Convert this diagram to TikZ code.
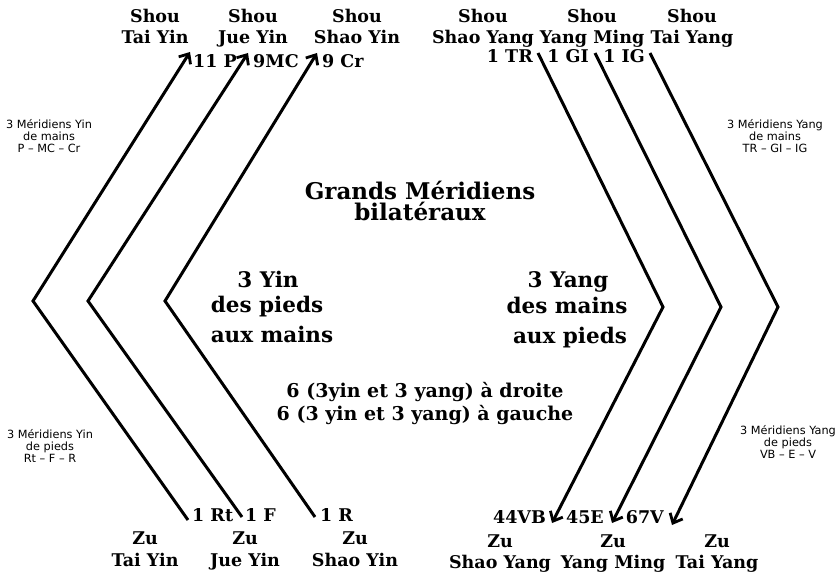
\documentclass[tikz,border=0pt]{standalone}
\usepackage{fontspec}
\setmainfont{DejaVu Serif}
\newfontfamily\sidefont{DejaVu Sans}
\usetikzlibrary{arrows.meta}
\begin{document}
\begin{tikzpicture}[x=1pt,y=-1pt,
  chev/.style={line width=3pt, line join=miter},
  arr/.style={chev, -{Straight Barb[length=8pt,width=14pt,line width=2.8pt]}},
  hdr/.style={font=\fontsize{17.5}{20}\selectfont\bfseries, anchor=base, inner sep=0pt},
  lblw/.style={font=\fontsize{17.5}{20}\selectfont\bfseries, anchor=base west, inner sep=0pt},
  lble/.style={font=\fontsize{17.5}{20}\selectfont\bfseries, anchor=base east, inner sep=0pt},
  big/.style={font=\fontsize{23}{26}\selectfont\bfseries, anchor=base, inner sep=0pt},
  mid/.style={font=\fontsize{21.5}{24}\selectfont\bfseries, anchor=base, inner sep=0pt},
  note/.style={font=\fontsize{19}{22}\selectfont\bfseries, anchor=base, inner sep=0pt},
  side/.style={font=\sidefont\fontsize{11.3}{12}\selectfont, align=center, inner sep=0pt}
]
\useasboundingbox (0,0) rectangle (840,575);

% headers top
\node[hdr] (h1a) at (155,23) {Shou};  \node[hdr] (h1b) at (155,44) {Tai Yin};
\node[hdr] (h2a) at (253,23) {Shou};  \node[hdr] (h2b) at (253,44) {Jue Yin};
\node[hdr] (h3a) at (357,23) {Shou};  \node[hdr] (h3b) at (357,44) {Shao Yin};
\node[hdr] (h4a) at (483,23) {Shou};  \node[hdr] (h4b) at (483,44) {Shao Yang};
\node[hdr] (h5a) at (592,23) {Shou};  \node[hdr] (h5b) at (592,44) {Yang Ming};
\node[hdr] (h6a) at (692,23) {Shou};  \node[hdr] (h6b) at (692,44) {Tai Yang};

% headers bottom
\node[hdr] (f1a) at (145,544) {Zu};  \node[hdr] (f1b) at (145,566) {Tai Yin};
\node[hdr] (f2a) at (245,544) {Zu};  \node[hdr] (f2b) at (245,566) {Jue Yin};
\node[hdr] (f3a) at (355,544) {Zu};  \node[hdr] (f3b) at (355,566) {Shao Yin};
\node[hdr] (f4a) at (500,547) {Zu};  \node[hdr] (f4b) at (500,568) {Shao Yang};
\node[hdr] (f5a) at (613,547) {Zu};  \node[hdr] (f5b) at (613,568) {Yang Ming};
\node[hdr] (f6a) at (717,547) {Zu};  \node[hdr] (f6b) at (717,568) {Tai Yang};

% point labels
\node[lblw] (p1) at (193,68) {11 P};
\node[lblw] (p2) at (253,68) {9MC};
\node[lblw] (p3) at (322,68) {9 Cr};
\node[lble] (p4) at (533,63) {1 TR};
\node[lble] (p5) at (589,63) {1 GI};
\node[lble] (p6) at (645,63) {1 IG};
\node[lblw] (q1) at (192,521) {1 Rt};
\node[lblw] (q2) at (245,521) {1 F};
\node[lblw] (q3) at (320,521) {1 R};
\node[lble] (q4) at (546,523) {44VB};
\node[lble] (q5) at (604,523) {45E};
\node[lble] (q6) at (664,523) {67V};

% chevron coordinates
\coordinate (l1b) at (188,520); \coordinate (l1v) at (33,301);  \coordinate (l1t) at (190,52);
\coordinate (l2b) at (242,517); \coordinate (l2v) at (88,301);  \coordinate (l2t) at (248,53);
\coordinate (l3b) at (315,517); \coordinate (l3v) at (165,301); \coordinate (l3t) at (317,53);
\coordinate (r1t) at (538,53);  \coordinate (r1v) at (663,307); \coordinate (r1b) at (552,523);
\coordinate (r2t) at (595,53);  \coordinate (r2v) at (721,307); \coordinate (r2b) at (612,523);
\coordinate (r3t) at (650,53);  \coordinate (r3v) at (778,307); \coordinate (r3b) at (672,525);

\draw[arr] (l1b) -- (l1v) -- (l1t);
\draw[arr] (l2b) -- (l2v) -- (l2t);
\draw[arr] (l3b) -- (l3v) -- (l3t);
\draw[arr] (r1t) -- (r1v) -- (r1b);
\draw[arr] (r2t) -- (r2v) -- (r2b);
\draw[arr] (r3t) -- (r3v) -- (r3b);

% center texts
\node[big] (t1) at (420,199) {Grands Méridiens};
\node[big] (t2) at (420,220) {bilatéraux};
\node[mid] (y1) at (268,287) {3 Yin};
\node[mid] (y2) at (267,312) {des pieds};
\node[mid] (y3) at (272,342) {aux mains};
\node[mid] (g1) at (568,287) {3 Yang};
\node[mid] (g2) at (567,313) {des mains};
\node[mid] (g3) at (570,343) {aux pieds};
\node[note] (n1) at (425,397) {6 (3yin et 3 yang) à droite};
\node[note] (n2) at (425,420) {6 (3 yin et 3 yang) à gauche};

% side texts
\node[side] (s1) at (49,136) {3 Méridiens Yin\\de mains\\P – MC – Cr};
\node[side] (s2) at (775,136) {3 Méridiens Yang\\de mains\\TR – GI – IG};
\node[side] (s3) at (50,446) {3 Méridiens Yin\\de pieds\\Rt – F – R};
\node[side] (s4) at (788,442) {3 Méridiens Yang\\de pieds\\VB – E – V};
\end{tikzpicture}
\end{document}
